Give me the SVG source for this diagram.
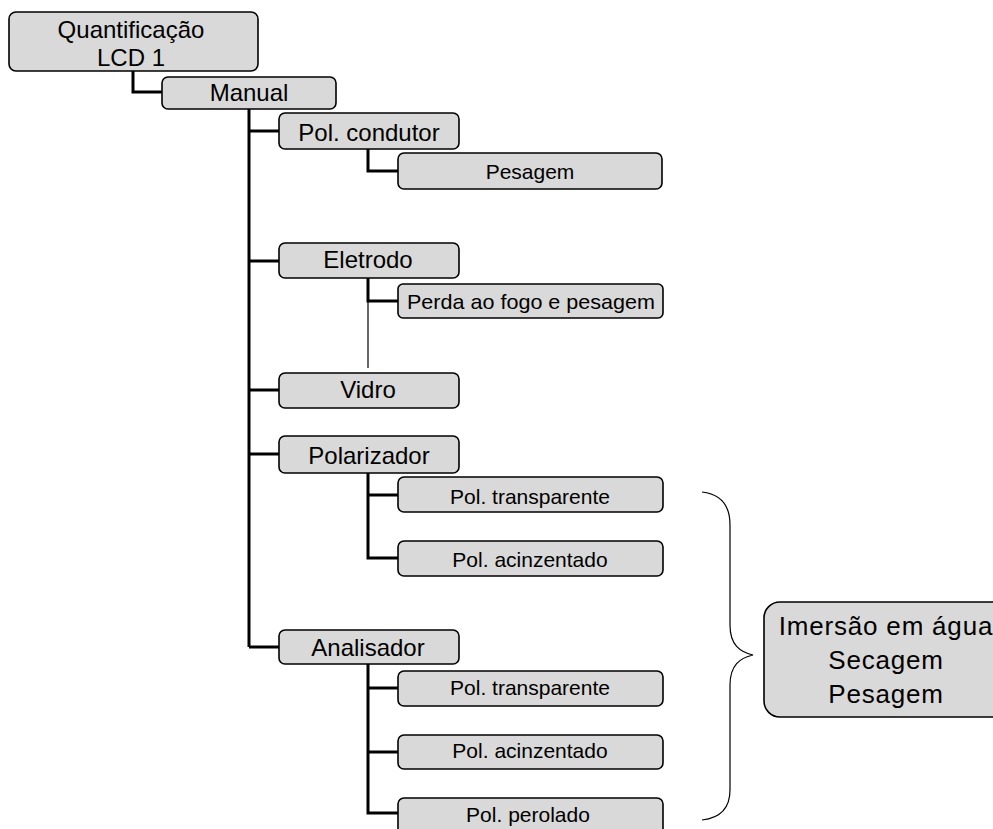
<svg xmlns="http://www.w3.org/2000/svg" width="993" height="829" viewBox="0 0 993 829">
<style>
.box{fill:#d9d9d9;stroke:#000;stroke-width:1.6}
.t{font-family:"Liberation Sans",Arial,sans-serif;fill:#000;text-anchor:middle}
.big{font-size:24px}
.sm{font-size:21px}
.xl{font-size:26px;letter-spacing:0.8px}
.c{fill:none;stroke:#000;stroke-width:3}
.thin{fill:none;stroke:#000;stroke-width:1.2}
</style>
<rect width="993" height="829" fill="#fff"/>
<g id="connectors">
<polyline class="c" points="133,71 133,92 162,92"/>
<line class="c" x1="249" y1="109" x2="249" y2="647"/>
<polyline class="c" points="249,647 279,647"/>
<line class="c" x1="249" y1="131" x2="279" y2="131"/>
<line class="c" x1="249" y1="261" x2="279" y2="261"/>
<line class="c" x1="249" y1="390" x2="279" y2="390"/>
<line class="c" x1="249" y1="454" x2="279" y2="454"/>
<polyline class="c" points="368,149 368,171 398,171"/>
<polyline class="c" points="368,278 368,301 398,301"/>
<line class="thin" x1="368" y1="301" x2="368" y2="368"/>
<polyline class="c" points="368,473 368,558 398,558"/>
<line class="c" x1="368" y1="495" x2="398" y2="495"/>
<polyline class="c" points="368,664 368,813 398,813"/>
<line class="c" x1="368" y1="688" x2="398" y2="688"/>
<line class="c" x1="368" y1="752" x2="398" y2="752"/>
<path class="thin" d="M702,492 C720,494 730,505 730,525 L730,625 C730,645 740,652 753,655 C740,658 730,665 730,685 L730,790 C730,808 720,818 702,820" stroke-width="1.5"/>
</g>
<g id="n-root"><rect class="box" x="9" y="12" width="249" height="59" rx="7"/><text class="t big" x="131" y="38">Quantificação</text><text class="t big" x="131" y="66">LCD 1</text></g>
<g id="n-manual"><rect class="box" x="162" y="77" width="174" height="32" rx="6"/><text class="t big" x="249" y="101">Manual</text></g>
<g id="n-polcond"><rect class="box" x="279" y="113" width="180" height="36" rx="6"/><text class="t big" x="369" y="141">Pol. condutor</text></g>
<g id="n-pesagem"><rect class="box" x="398" y="153" width="264" height="36" rx="6"/><text class="t sm" x="530" y="179">Pesagem</text></g>
<g id="n-eletrodo"><rect class="box" x="279" y="243" width="180" height="35" rx="6"/><text class="t big" x="368" y="268">Eletrodo</text></g>
<g id="n-perda"><rect class="box" x="398" y="284" width="265" height="34" rx="5"/><text class="t sm" x="531" y="309" textLength="248" lengthAdjust="spacingAndGlyphs">Perda ao fogo e pesagem</text></g>
<g id="n-vidro"><rect class="box" x="279" y="373" width="180" height="35" rx="6"/><text class="t big" x="368" y="398">Vidro</text></g>
<g id="n-polarizador"><rect class="box" x="279" y="436" width="180" height="37" rx="6"/><text class="t big" x="369" y="464">Polarizador</text></g>
<g id="n-poltr1"><rect class="box" x="398" y="477" width="265" height="35" rx="6"/><text class="t sm" x="530" y="504">Pol. transparente</text></g>
<g id="n-polac1"><rect class="box" x="398" y="541" width="265" height="35" rx="6"/><text class="t sm" x="530" y="567">Pol. acinzentado</text></g>
<g id="n-analisador"><rect class="box" x="279" y="630" width="180" height="34" rx="6"/><text class="t big" x="368" y="656">Analisador</text></g>
<g id="n-poltr2"><rect class="box" x="398" y="671" width="265" height="35" rx="6"/><text class="t sm" x="530" y="695">Pol. transparente</text></g>
<g id="n-polac2"><rect class="box" x="398" y="735" width="265" height="34" rx="6"/><text class="t sm" x="530" y="758">Pol. acinzentado</text></g>
<g id="n-polper"><rect class="box" x="398" y="798" width="265" height="40" rx="6"/><text class="t sm" x="528" y="822">Pol. perolado</text></g>
<g id="n-imersao"><rect class="box" x="764" y="602" width="250" height="115" rx="16"/><text class="t xl" x="886" y="635">Imersão em água</text><text class="t xl" x="886" y="669">Secagem</text><text class="t xl" x="886" y="703">Pesagem</text></g>
</svg>
